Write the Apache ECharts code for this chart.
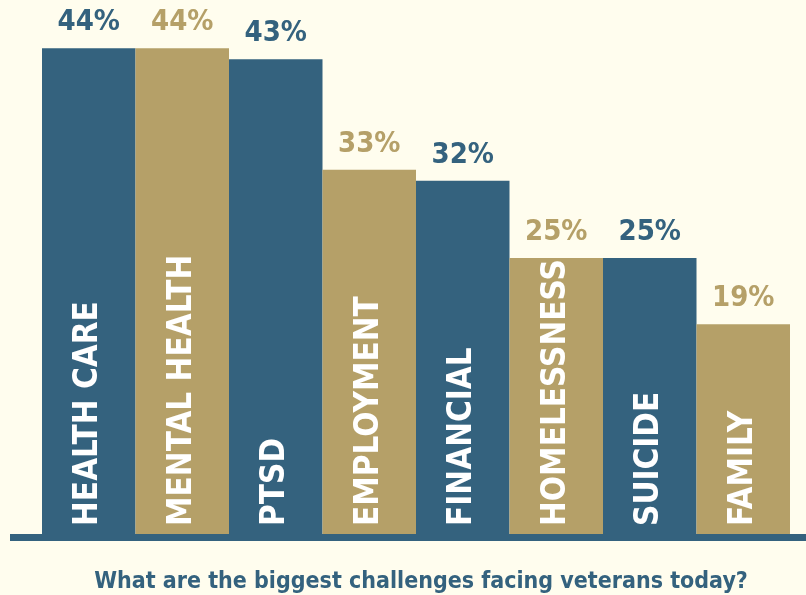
<!DOCTYPE html>
<html>
<head>
<meta charset="utf-8">
<script src="https://cdn.jsdelivr.net/npm/echarts@6/dist/echarts.min.js"></script>
<style>
  html, body { margin: 0; padding: 0; background: #fffdee; }
  #chart { width: 806px; height: 595px; }
</style>
</head>
<body>
<div id="chart"></div>
<script>
// challenges, percent of respondents
const categories = ['HEALTH CARE', 'MENTAL HEALTH', 'PTSD', 'EMPLOYMENT', 'FINANCIAL', 'HOMELESSNESS', 'SUICIDE', 'FAMILY'];
const values = [44, 44, 43, 33, 32, 25, 25, 19];

const BLUE = '#34627e';
const TAN = '#b5a068';
const FONT = '"DejaVu Sans Condensed", "DejaVu Sans", sans-serif';

let chart = echarts.init(document.getElementById('chart'));

let option = {
  backgroundColor: '#fffdee',
  animation: false,
  title: {
    text: 'What are the biggest challenges facing veterans today?',
    left: 416,
    top: 566,
    textAlign: 'center',
    textStyle: { color: BLUE, fontFamily: FONT, fontWeight: 'bold', fontSize: 23 }
  },
  grid: { left: 42, right: 16, top: 4, bottom: 61 },
  xAxis: {
    type: 'category',
    data: categories,
    axisLine: { show: false },
    axisTick: { show: false },
    axisLabel: { show: false }
  },
  yAxis: {
    type: 'value',
    min: 0,
    max: 48,
    show: false,
    splitLine: { show: false }
  },
  series: [{
    type: 'bar',
    barCategoryGap: 0,
    data: values.map((v, i) => ({
      value: v,
      itemStyle: { color: i % 2 === 0 ? BLUE : TAN },
      label: { color: i % 2 === 0 ? BLUE : TAN }
    })),
    label: {
      show: true,
      position: 'top',
      distance: 11,
      formatter: '{c}%',
      fontFamily: FONT,
      fontWeight: 'bold',
      fontSize: 29
    }
  }, {
    // category names drawn inside the bars
    type: 'bar',
    barGap: '-100%',
    barCategoryGap: 0,
    silent: true,
    itemStyle: { color: 'transparent' },
    data: values,
    label: {
      show: true,
      position: 'insideBottom',
      rotate: 90,
      align: 'left',
      verticalAlign: 'middle',
      distance: 8,
      formatter: (p) => categories[p.dataIndex],
      color: '#ffffff',
      fontFamily: FONT,
      fontWeight: 'bold',
      fontSize: 33
    }
  }],
  graphic: [{
    // baseline under the bars
    type: 'rect',
    shape: { x: 10, y: 534, width: 796, height: 7 },
    style: { fill: BLUE }
  }]
};

chart.setOption(option);
</script>
</body>
</html>
